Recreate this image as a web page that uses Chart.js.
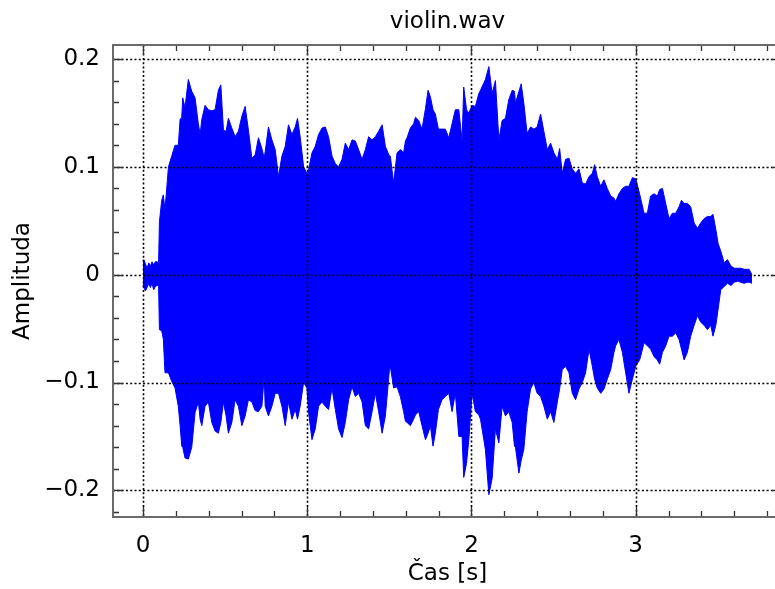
<!DOCTYPE html>
<html><head><meta charset="utf-8">
<script src="https://cdn.jsdelivr.net/npm/chart.js@4/dist/chart.umd.min.js"></script>
<style>html,body{margin:0;padding:0;overflow:hidden;background:#fff}</style>
</head><body>
<canvas id="c" width="782" height="589" style="width:782px;height:589px;display:block"></canvas>
<script>
const times = [0.000,0.005,0.015,0.025,0.035,0.045,0.055,0.065,0.075,0.085,0.095,0.100,0.114,0.124,0.134,0.155,0.175,0.195,0.215,0.226,0.236,0.242,0.256,0.276,0.297,0.317,0.337,0.348,0.358,0.378,0.398,0.419,0.439,0.459,0.474,0.490,0.506,0.520,0.541,0.561,0.581,0.602,0.622,0.642,0.663,0.683,0.703,0.724,0.738,0.744,0.764,0.785,0.805,0.825,0.846,0.866,0.886,0.907,0.927,0.941,0.957,0.978,0.998,1.008,1.029,1.049,1.069,1.090,1.110,1.130,1.151,1.171,1.191,1.212,1.232,1.252,1.273,1.293,1.313,1.334,1.354,1.374,1.395,1.415,1.435,1.456,1.476,1.500,1.506,1.526,1.547,1.567,1.587,1.598,1.608,1.628,1.648,1.659,1.679,1.699,1.720,1.736,1.750,1.766,1.780,1.799,1.821,1.841,1.862,1.882,1.902,1.923,1.943,1.953,1.970,1.984,2.004,2.024,2.045,2.055,2.085,2.106,2.126,2.146,2.167,2.187,2.207,2.227,2.248,2.262,2.268,2.289,2.303,2.319,2.339,2.360,2.380,2.400,2.421,2.441,2.462,2.482,2.502,2.523,2.537,2.553,2.573,2.594,2.614,2.634,2.655,2.675,2.695,2.716,2.736,2.750,2.766,2.787,2.807,2.827,2.848,2.868,2.878,2.898,2.919,2.939,2.959,2.980,3.000,3.024,3.030,3.051,3.071,3.091,3.112,3.132,3.146,3.163,3.183,3.203,3.224,3.244,3.264,3.279,3.295,3.315,3.335,3.356,3.376,3.396,3.417,3.437,3.457,3.471,3.488,3.502,3.518,3.539,3.559,3.580,3.600,3.620,3.640,3.661,3.681,3.691,3.708];
const upper = [0.013,0.014,0.010,0.006,0.011,0.008,0.012,0.009,0.012,0.012,0.011,0.049,0.069,0.074,0.060,0.100,0.110,0.120,0.120,0.144,0.146,0.164,0.155,0.181,0.170,0.164,0.140,0.130,0.144,0.157,0.153,0.152,0.153,0.171,0.176,0.134,0.133,0.145,0.136,0.128,0.133,0.147,0.156,0.134,0.108,0.111,0.127,0.117,0.108,0.114,0.137,0.125,0.116,0.091,0.110,0.119,0.139,0.130,0.137,0.145,0.128,0.100,0.094,0.097,0.113,0.119,0.130,0.136,0.137,0.128,0.110,0.103,0.100,0.107,0.122,0.116,0.125,0.124,0.116,0.107,0.116,0.128,0.125,0.128,0.133,0.139,0.119,0.110,0.110,0.085,0.113,0.116,0.113,0.124,0.127,0.136,0.140,0.146,0.143,0.135,0.154,0.171,0.165,0.153,0.149,0.135,0.135,0.135,0.127,0.140,0.153,0.153,0.124,0.174,0.153,0.150,0.157,0.156,0.168,0.171,0.181,0.193,0.168,0.180,0.125,0.143,0.145,0.162,0.171,0.170,0.159,0.170,0.177,0.159,0.131,0.137,0.135,0.137,0.149,0.133,0.116,0.122,0.113,0.107,0.117,0.094,0.107,0.108,0.098,0.094,0.098,0.085,0.084,0.091,0.094,0.102,0.091,0.082,0.088,0.080,0.073,0.071,0.068,0.075,0.080,0.082,0.082,0.090,0.089,0.075,0.071,0.057,0.057,0.073,0.075,0.073,0.079,0.080,0.066,0.052,0.057,0.057,0.063,0.069,0.066,0.066,0.063,0.048,0.043,0.048,0.052,0.054,0.054,0.056,0.042,0.029,0.022,0.011,0.014,0.008,0.006,0.006,0.006,0.005,0.005,0.005,0.000];
const lower = [-0.010,-0.012,-0.015,-0.012,-0.008,-0.012,-0.008,-0.014,-0.011,-0.010,-0.010,-0.051,-0.052,-0.060,-0.091,-0.091,-0.099,-0.105,-0.122,-0.140,-0.159,-0.160,-0.170,-0.171,-0.160,-0.128,-0.118,-0.134,-0.140,-0.122,-0.118,-0.137,-0.145,-0.147,-0.137,-0.118,-0.131,-0.147,-0.137,-0.116,-0.122,-0.140,-0.131,-0.116,-0.118,-0.126,-0.127,-0.122,-0.094,-0.122,-0.131,-0.122,-0.110,-0.110,-0.122,-0.140,-0.118,-0.134,-0.125,-0.134,-0.122,-0.100,-0.105,-0.127,-0.153,-0.143,-0.122,-0.118,-0.122,-0.125,-0.105,-0.125,-0.143,-0.151,-0.137,-0.116,-0.104,-0.113,-0.110,-0.118,-0.140,-0.143,-0.127,-0.110,-0.127,-0.147,-0.131,-0.089,-0.085,-0.105,-0.104,-0.113,-0.127,-0.136,-0.137,-0.140,-0.134,-0.130,-0.127,-0.140,-0.153,-0.147,-0.140,-0.159,-0.147,-0.125,-0.116,-0.113,-0.110,-0.127,-0.110,-0.150,-0.150,-0.188,-0.175,-0.153,-0.110,-0.127,-0.130,-0.134,-0.162,-0.204,-0.189,-0.143,-0.156,-0.122,-0.131,-0.127,-0.137,-0.159,-0.160,-0.184,-0.172,-0.162,-0.127,-0.106,-0.100,-0.110,-0.113,-0.122,-0.134,-0.127,-0.137,-0.118,-0.106,-0.088,-0.085,-0.091,-0.110,-0.116,-0.106,-0.100,-0.091,-0.069,-0.085,-0.097,-0.105,-0.110,-0.106,-0.097,-0.088,-0.072,-0.066,-0.060,-0.072,-0.091,-0.110,-0.097,-0.085,-0.079,-0.076,-0.063,-0.066,-0.069,-0.076,-0.079,-0.083,-0.072,-0.066,-0.057,-0.057,-0.054,-0.060,-0.069,-0.079,-0.072,-0.057,-0.047,-0.038,-0.044,-0.047,-0.051,-0.047,-0.057,-0.047,-0.032,-0.014,-0.011,-0.008,-0.010,-0.007,-0.006,-0.007,-0.008,-0.007,-0.007,-0.008];

const xMajorTicks = [0, 1, 2, 3];
const xTickLabels = ['0', '1', '2', '3'];
const xMinorTicks = [0.2,0.4,0.6,0.8,1.2,1.4,1.6,1.8,2.2,2.4,2.6,2.8,3.2,3.4,3.6,3.8];
const yMajorTicks = [-0.2, -0.1, 0, 0.1, 0.2];
const yTickLabels = ['\u22120.2', '\u22120.1', '0', '0.1', '0.2'];
const yMinorTicks = [-0.22,-0.18,-0.16,-0.14,-0.12,-0.08,-0.06,-0.04,-0.02,0.02,0.04,0.06,0.08,0.12,0.14,0.16,0.18];

const chartTitle = 'violin.wav';
const xTitle = '\u010Cas [s]';
const yTitle = 'Amplituda';

const FONT = 'DejaVu Sans';
const FS = 23;
const BLUE = '#0000ff';

const overlay = {
  id: 'overlay',
  afterDatasetsDraw(chart) {
    const ctx = chart.ctx, a = chart.chartArea;
    const xs = chart.scales.x, ys = chart.scales.y;
    ctx.save();
    ctx.beginPath(); ctx.rect(a.left, a.top, a.right - a.left, a.bottom - a.top); ctx.clip();
    ctx.strokeStyle = '#000'; ctx.lineWidth = 1.6; ctx.setLineDash([2, 2.3]);
    xMajorTicks.forEach(v => { const p = Math.round(xs.getPixelForValue(v)) + 0.5;
      ctx.beginPath(); ctx.moveTo(p, a.top); ctx.lineTo(p, a.bottom); ctx.stroke(); });
    yMajorTicks.forEach(v => { const p = Math.round(ys.getPixelForValue(v)) + 0.5;
      ctx.beginPath(); ctx.moveTo(a.left, p); ctx.lineTo(a.right, p); ctx.stroke(); });
    ctx.setLineDash([]);
    ctx.strokeStyle = '#333'; ctx.lineWidth = 1.3;
    const tx = (v, len) => { const p = Math.round(xs.getPixelForValue(v)) + 0.5;
      ctx.beginPath(); ctx.moveTo(p, a.bottom); ctx.lineTo(p, a.bottom - len);
      ctx.moveTo(p, a.top); ctx.lineTo(p, a.top + len); ctx.stroke(); };
    const ty = (v, len) => { const p = Math.round(ys.getPixelForValue(v)) + 0.5;
      ctx.beginPath(); ctx.moveTo(a.left, p); ctx.lineTo(a.left + len, p);
      ctx.moveTo(a.right, p); ctx.lineTo(a.right - len, p); ctx.stroke(); };
    xMajorTicks.forEach(v => tx(v, 10)); xMinorTicks.forEach(v => tx(v, 6));
    yMajorTicks.forEach(v => ty(v, 10)); yMinorTicks.forEach(v => ty(v, 6));
    ctx.restore();
    ctx.save();
    ctx.strokeStyle = '#6a6a6a'; ctx.lineWidth = 2;
    ctx.strokeRect(a.left, a.top, a.right - a.left, a.bottom - a.top);
    ctx.fillStyle = '#000'; ctx.font = FS + 'px "' + FONT + '"';
    ctx.textAlign = 'center'; ctx.textBaseline = 'middle';
    ctx.fillText(chartTitle, (a.left + a.right) / 2, 22);
    ctx.restore();
  }
};

const font = { family: FONT, size: FS };

new Chart(document.getElementById('c'), {
  type: 'line',
  data: {
    datasets: [
      { data: times.map((t, i) => ({ x: t, y: upper[i] })), borderColor: BLUE, backgroundColor: BLUE, borderWidth: 1, fill: '+1', pointRadius: 0, tension: 0 },
      { data: times.map((t, i) => ({ x: t, y: lower[i] })), borderColor: BLUE, backgroundColor: BLUE, borderWidth: 1, fill: false, pointRadius: 0, tension: 0 }
    ]
  },
  options: {
    responsive: false, animation: false, devicePixelRatio: 1,
    layout: { padding: { top: 45, left: 0, right: 0, bottom: 0 } },
    plugins: { legend: { display: false }, title: { display: false }, tooltip: { enabled: false } },
    scales: {
      x: {
        type: 'linear', min: -0.1826, max: 3.891,
        afterBuildTicks: s => { s.ticks = xMajorTicks.map(v => ({ value: v })); },
        afterFit: s => { s.height = 72; },
        ticks: { callback: (v, i) => xTickLabels[i], font, color: '#000', padding: 15, maxRotation: 0, autoSkip: false },
        grid: { display: false, drawTicks: false }, border: { display: false },
        title: { display: true, text: xTitle, font, color: '#000', padding: { top: 0, bottom: 1 } }
      },
      y: {
        type: 'linear', min: -0.2247, max: 0.213,
        afterBuildTicks: s => { s.ticks = yMajorTicks.map(v => ({ value: v })); },
        afterFit: s => { s.width = 113; },
        ticks: { callback: (v, i) => yTickLabels[i], font, color: '#000', padding: 13, autoSkip: false },
        grid: { display: false, drawTicks: false }, border: { display: false },
        title: { display: true, text: yTitle, font, color: '#000', padding: { top: 9, bottom: 0 } }
      }
    }
  },
  plugins: [overlay]
});
</script>
</body></html>
